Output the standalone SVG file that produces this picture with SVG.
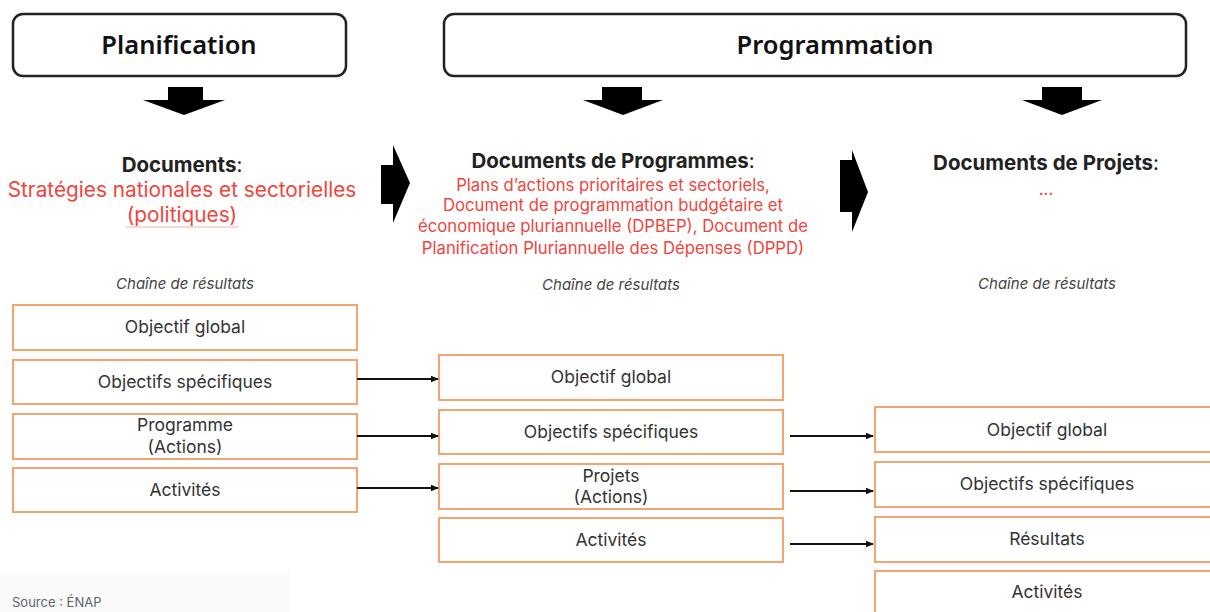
<svg xmlns="http://www.w3.org/2000/svg" width="1210" height="612" viewBox="0 0 1210 612">
<defs>
<style>
.title{font-family:"Noto Sans","Liberation Sans",sans-serif;font-weight:600;font-size:25.5px;fill:#111;text-anchor:middle}
.hbox{fill:#fff;stroke:#222;stroke-width:2.5}
.doc{font-family:Inter,"Noto Sans",sans-serif;font-weight:700;font-size:20.5px;fill:#222;text-anchor:middle}
.red{font-family:Inter,"Noto Sans",sans-serif;font-size:16.7px;fill:#f0453d;text-anchor:middle}
.chain{font-family:Inter,"Noto Sans",sans-serif;font-style:italic;font-size:15px;fill:#444;text-anchor:middle}
.box{fill:#fff;stroke:#f4a46f;stroke-width:2}
.lbl{font-family:Inter,"Noto Sans",sans-serif;font-size:17.5px;fill:#333;text-anchor:middle}
.blk{fill:#000}
.conn{stroke:#111;stroke-width:2.2;fill:none;marker-end:url(#ah)}
</style>
<marker id="ah" markerWidth="8" markerHeight="8" refX="7" refY="4" orient="auto" markerUnits="userSpaceOnUse">
<path d="M0,0.8 L8,4 L0,7.2 Z" fill="#111"/>
</marker>
</defs>
<rect width="1210" height="612" fill="#fff"/>
<rect x="0" y="572" width="290" height="40" fill="#fafafa"/>

<g id="planification">
<rect class="hbox" x="13" y="14" width="333" height="62" rx="10"/>
<text class="title" x="179" y="54">Planification</text>
</g>
<g id="programmation">
<rect class="hbox" x="444" y="14" width="742" height="62" rx="10"/>
<text class="title" x="835" y="54">Programmation</text>
</g>

<g id="down-arrows">
<path class="blk" d="M168,87 H203 V100 H225 L184,115 L143,100 H168 Z"/>
<path class="blk" d="M602,87 H642 V100 H663 L623,115 L583,100 H602 Z"/>
<path class="blk" d="M1042,87 H1082 V100 H1102 L1062,115 L1022,100 H1042 Z"/>
</g>
<g id="right-arrows">
<path class="blk" d="M381,165 H393 V145 L410,183 L393,223 V204 H381 Z"/>
<path class="blk" d="M840,160 H852 V150 L868,192 L852,232 V212 H840 Z"/>
</g>

<g id="doc-planification">
<text class="doc" x="182" y="172">Documents<tspan font-weight="400">:</tspan></text>
<text class="red" x="182" y="197" style="font-size:20.8px">Stratégies nationales et sectorielles</text>
<text class="red" x="182" y="222" style="font-size:20.8px">(politiques)</text>
<line x1="125" y1="227" x2="239" y2="227" stroke="#f3b0aa" stroke-width="1"/>
</g>
<g id="doc-programmes">
<text class="doc" x="613" y="168">Documents de Programmes<tspan font-weight="400">:</tspan></text>
<text class="red" x="613" y="191">Plans d’actions prioritaires et sectoriels,</text>
<text class="red" x="613" y="211">Document de programmation budgétaire et</text>
<text class="red" x="613" y="232">économique pluriannuelle (DPBEP), Document de</text>
<text class="red" x="613" y="254">Planification Pluriannuelle des Dépenses (DPPD)</text>
</g>
<g id="doc-projets">
<text class="doc" x="1046" y="170">Documents de Projets<tspan font-weight="400">:</tspan></text>
<text class="red" x="1046" y="195">...</text>
</g>

<text class="chain" x="185" y="289">Chaîne de résultats</text>
<text class="chain" x="611" y="290">Chaîne de résultats</text>
<text class="chain" x="1047" y="289">Chaîne de résultats</text>

<g id="l-objectif-global"><rect class="box" x="13" y="305" width="344" height="45"/><text class="lbl" x="185" y="333">Objectif global</text></g>
<g id="l-objectifs-specifiques"><rect class="box" x="13" y="360" width="344" height="44"/><text class="lbl" x="185" y="388">Objectifs spécifiques</text></g>
<g id="l-programme"><rect class="box" x="13" y="414" width="344" height="45"/><text class="lbl" x="185" y="431">Programme</text><text class="lbl" x="185" y="453">(Actions)</text></g>
<g id="l-activites"><rect class="box" x="13" y="468" width="344" height="44"/><text class="lbl" x="185" y="496">Activités</text></g>

<g id="m-objectif-global"><rect class="box" x="439" y="355" width="344" height="45"/><text class="lbl" x="611" y="383">Objectif global</text></g>
<g id="m-objectifs-specifiques"><rect class="box" x="439" y="410" width="344" height="44"/><text class="lbl" x="611" y="438">Objectifs spécifiques</text></g>
<g id="m-projets"><rect class="box" x="439" y="464" width="344" height="45"/><text class="lbl" x="611" y="482">Projets</text><text class="lbl" x="611" y="503">(Actions)</text></g>
<g id="m-activites"><rect class="box" x="439" y="518" width="344" height="44"/><text class="lbl" x="611" y="546">Activités</text></g>

<g id="r-objectif-global"><rect class="box" x="875" y="407" width="345" height="45"/><text class="lbl" x="1047" y="436">Objectif global</text></g>
<g id="r-objectifs-specifiques"><rect class="box" x="875" y="462" width="345" height="45"/><text class="lbl" x="1047" y="490">Objectifs spécifiques</text></g>
<g id="r-resultats"><rect class="box" x="875" y="517" width="345" height="45"/><text class="lbl" x="1047" y="545">Résultats</text></g>
<g id="r-activites"><rect class="box" x="875" y="571" width="345" height="50"/><text class="lbl" x="1047" y="598">Activités</text></g>

<g id="connectors">
<line class="conn" x1="357" y1="379" x2="438" y2="379"/>
<line class="conn" x1="357" y1="436" x2="438" y2="436"/>
<line class="conn" x1="357" y1="488" x2="438" y2="488"/>
<line class="conn" x1="790" y1="436" x2="873" y2="436"/>
<line class="conn" x1="790" y1="491" x2="873" y2="491"/>
<line class="conn" x1="790" y1="544" x2="873" y2="544"/>
</g>

<text x="12" y="607" font-family="Inter,'Noto Sans',sans-serif" font-size="13" fill="#5a6570">Source : ÉNAP</text>
</svg>
